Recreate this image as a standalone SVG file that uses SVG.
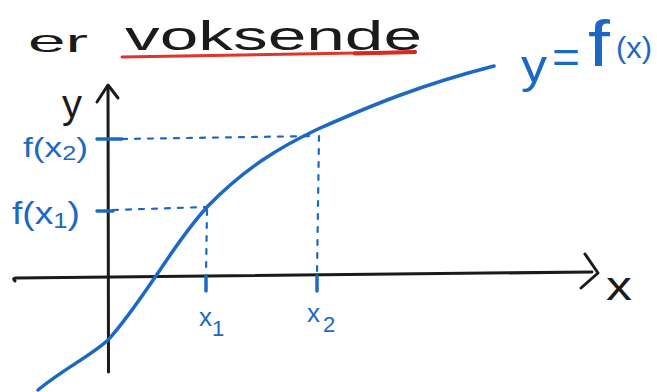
<svg xmlns="http://www.w3.org/2000/svg" width="657" height="392" viewBox="0 0 657 392">
<style>
.ink{fill:none;stroke:#1b1b1b;stroke-width:3;stroke-linecap:round;stroke-linejoin:round}
.blue{fill:none;stroke:#1c68c2;stroke-width:3.5;stroke-linecap:round;stroke-linejoin:round}
.dash{fill:none;stroke:#1c68c2;stroke-width:2.2;stroke-dasharray:5 8;stroke-linecap:round}
.tick{fill:none;stroke:#1c68c2;stroke-width:3.5;stroke-linecap:round}
.bt{fill:#1c68c2;font-family:"Liberation Sans",Arial,sans-serif}
.kt{fill:#1b1b1b;font-family:"Liberation Sans",Arial,sans-serif}
</style>
<rect width="657" height="392" fill="#ffffff"/>
<g id="title">
<text class="kt" x="28" y="52" font-size="32" textLength="60" lengthAdjust="spacingAndGlyphs">er</text>
<text class="kt" x="125" y="50" font-size="40" textLength="297" lengthAdjust="spacingAndGlyphs">voksende</text>
<path d="M122,57 Q270,55 415,52" fill="none" stroke="#e2342a" stroke-width="3" stroke-linecap="round"/>
<path d="M355,53.5 L415,52" fill="none" stroke="#d8281f" stroke-width="4" stroke-linecap="round"/>
</g>
<g id="axes">
<path class="ink" d="M108,86 L108.5,372"/>
<path class="ink" d="M97,102 L108,85 L118,98"/>
<path class="ink" d="M15,281 Q12,278 16,278 L592,272"/>
<path class="ink" d="M585,254 L598,273 L581,288"/>
<text class="kt" x="606" y="300" font-size="40" textLength="26" lengthAdjust="spacingAndGlyphs">x</text>
<text class="kt" x="62" y="118" font-size="40" textLength="20" lengthAdjust="spacingAndGlyphs">y</text>
</g>
<g id="connectors">
<path class="dash" d="M122,139 L316,136"/>
<path class="dash" d="M319,136 L317,276"/>
<path class="tick" d="M317,276 L317,291" stroke-width="2.5"/>
<path class="dash" d="M113,210 L207,207"/>
<path class="dash" d="M207,210 L206,276"/>
<path class="tick" d="M206,276 L206,291" stroke-width="2.5"/>
<path class="tick" d="M97,139 L122,139"/>
<path class="tick" d="M97,211 L113,211"/>
</g>
<g id="curve">
<path class="blue" d="M38,390 C62,370 92,355 108,340 C125,322 145,292 160,270 C180,240 195,220 208,206 C245,168 280,147 318,129 C370,106 420,85 494,66"/>
</g>
<g id="label-fx2">
<text class="bt" x="23" y="157" font-size="28" textLength="65" lengthAdjust="spacingAndGlyphs">f(x<tspan font-size="20" dy="3">2</tspan><tspan dy="-3">)</tspan></text>
</g>
<g id="label-fx1">
<text class="bt" x="12" y="224" font-size="32" textLength="68" lengthAdjust="spacingAndGlyphs">f(x<tspan font-size="22" dy="4">1</tspan><tspan dy="-4">)</tspan></text>
</g>
<g id="label-x1">
<text class="bt" x="199" y="326" font-size="26">x<tspan font-size="22" dy="10">1</tspan></text>
</g>
<g id="label-x2">
<text class="bt" x="307" y="322" font-size="26">x<tspan font-size="22" dx="3" dy="10">2</tspan></text>
</g>
<g id="label-fx">
<text class="bt" x="521" y="82" font-size="46" textLength="26" lengthAdjust="spacingAndGlyphs">y</text>
<text class="bt" x="552" y="73" font-size="46" textLength="28" lengthAdjust="spacingAndGlyphs">=</text>
<text class="bt" x="588" y="66" font-size="64" textLength="22" lengthAdjust="spacingAndGlyphs">f</text>
<text class="bt" x="616" y="58" font-size="30" textLength="36" lengthAdjust="spacingAndGlyphs">(x)</text>
</g>
</svg>
